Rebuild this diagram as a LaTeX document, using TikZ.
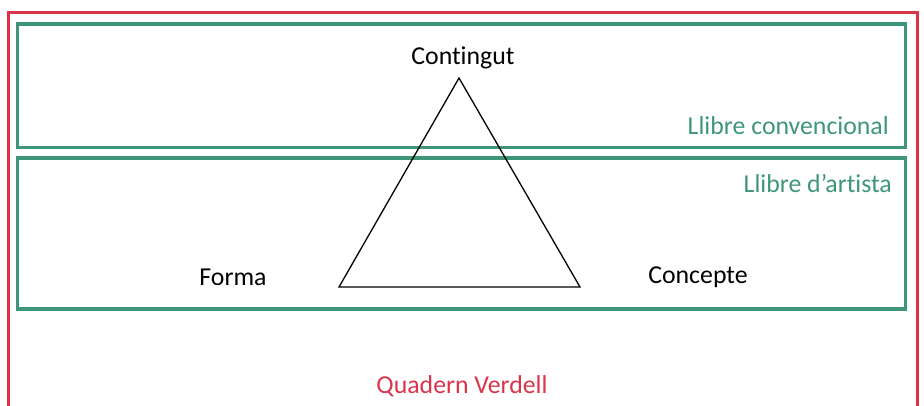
\documentclass[tikz,border=0pt]{standalone}
\usepackage{fontspec}
\setmainfont{Carlito}[Ligatures=NoCommon]
\definecolor{qred}{RGB}{218,52,74}
\definecolor{lgreen}{RGB}{62,150,120}
\begin{document}
\begin{tikzpicture}[x=1pt,y=-1pt,
  redline/.style={draw=qred,line width=3pt},
  greenbox/.style={draw=lgreen,line width=3.5pt},
  lbl/.style={font=\fontsize{25.8}{30}\selectfont,inner sep=0pt},
  greenlbl/.style={lbl,text=lgreen,anchor=east},
  tri/.style={draw=black,line width=1.3pt,line join=miter}]
\useasboundingbox (0,0) rectangle (924,406);
\draw[redline] (8,406) -- (8,13) -- (917,13) -- (917,406);
\draw[greenbox] (17.5,24) rectangle (905.5,147.5);
\draw[greenbox] (17.5,158) rectangle (905.5,309);
\coordinate (apex) at (459,78);
\coordinate (bl) at (339,287);
\coordinate (br) at (580,287);
\draw[tri] (apex) -- (bl) -- (br) -- cycle;
\node[lbl] (contingut) at (463,58) {Contingut};
\node[lbl] (forma) at (233,277) {Forma};
\node[lbl] (concepte) at (698,277) {Concepte};
\node[greenlbl] (conv) at (889,126) {Llibre convencional};
\node[greenlbl] (artista) at (892,184) {Llibre d’artista};
\node[lbl,text=qred] (quadern) at (462,386) {Quadern Verdell};
\end{tikzpicture}
\end{document}
